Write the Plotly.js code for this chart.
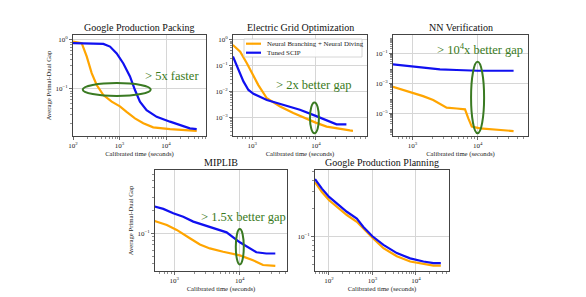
<!DOCTYPE html>
<html><head><meta charset="utf-8">
<script src="https://cdn.plot.ly/plotly-3.0.1.min.js"></script>
<style>html,body{margin:0;padding:0;background:#fff}#chart{width:586px;height:297px}</style>
</head><body><div id="chart"></div>
<script>
// ---------- data ----------
const seriesNames = ["Neural Branching + Neural Diving", "Tuned SCIP"];
const panelTitles = ["Google Production Packing", "Electric Grid Optimization", "NN Verification", "MIPLIB", "Google Production Planning"];

const packingNeuralTime = [100,154,197,252,323,450,680,1020,1420,2150,3250,5300,12200,28000,45700];
const packingNeuralGap  = [0.92,0.86,0.46,0.21,0.12,0.075,0.055,0.044,0.034,0.025,0.020,0.0165,0.0152,0.0146,0.014];
const packingScipTime   = [100,450,625,870,1210,1680,2150,2750,3820,6300,12200,23300,32600,45700];
const packingScipGap    = [0.86,0.83,0.73,0.53,0.33,0.18,0.095,0.055,0.037,0.027,0.0215,0.0175,0.0157,0.0151];

const gridNeuralTime = [500,650,826,1010,1250,1700,2740,4420,7160,9900,14700,23700,34000,38000];
const gridNeuralGap  = [0.64,0.35,0.126,0.051,0.018,0.0056,0.0027,0.0015,0.00087,0.00064,0.00045,0.00036,0.00032,0.00031];
const gridScipTime   = [500,610,730,875,1050,1700,3080,5600,9900,14700,21000,30000];
const gridScipGap    = [0.23,0.069,0.025,0.0117,0.0083,0.0048,0.0031,0.0020,0.00117,0.00076,0.00055,0.00055];

const nnNeuralTime = [500,640,910,1450,2070,2630,3330,4750,6370,7160,8090,10800,19600,35400];
const nnNeuralGap  = [5.9e-4,4.2e-4,2.8e-4,1.4e-4,7.7e-5,4.2e-5,2.4e-5,2.1e-5,1.85e-5,4.6e-6,1.3e-6,1.0e-6,7.7e-7,6.6e-7];
const nnScipTime   = [500,1020,1640,2630,4750,10000,35400];
const nnScipGap    = [0.0185,0.0129,0.010,0.0085,0.0077,0.0069,0.0069];

const miplibNeuralTime = [500,770,1090,1300,1730,2460,3490,5570,10000,15900,22600,34800];
const miplibNeuralGap  = [0.146,0.129,0.111,0.1,0.086,0.071,0.063,0.057,0.051,0.044,0.038,0.037];
const miplibScipTime   = [500,680,965,1370,1950,2760,4420,6280,10000,14200,17900,25400,34800];
const miplibScipGap    = [0.226,0.211,0.185,0.166,0.143,0.129,0.114,0.103,0.076,0.063,0.056,0.054,0.054];

const planningTime      = [48,69,101,152,258,438,620,1000,1790,3640,7350,14900,25300,37300];
const planningNeuralGap = [0.38,0.298,0.243,0.207,0.169,0.143,0.120,0.0966,0.0745,0.061,0.0537,0.0503,0.0486,0.0486];
const planningScipGap   = [0.41,0.324,0.264,0.224,0.183,0.155,0.126,0.1,0.081,0.066,0.058,0.0537,0.0516,0.0516];

const xTickVals = [[100,1000,10000],[1000,10000],[1000,10000],[1000,10000],[100,1000,10000]];
const yTickVals = [[1,0.1],[1,0.1,0.01,0.001],[0.1,0.001,0.00001],[0.1],[0.1]];

const callouts = ["&gt; 5x faster", "&gt; 2x better gap", "&gt; 10<sup>4</sup>x better gap", "&gt; 1.5x better gap"];

// ---------- layout helpers ----------
const W = 586, H = 297;
const F = "Liberation Serif";
const ORANGE = "#FFA500", BLUE = "#1010F0", GREEN = "#3A7A22";
const px = [[73,206],[233,367],[393,528],[155,287],[315,449]];
const py = [[35,136],[35,136],[35,136],[170,271],[170,271]];
const xr = [[2,4.86],[2.70,4.80],[2.70,4.77],[2.706,4.72],[1.68,4.76]];
const yr = [[-1.96,0.1],[-3.71,0.19],[-6.51,0.22],[-1.5,-0.16],[-1.372,-0.29]];
const X = v => v / W, Y = v => 1 - v / H;

function sup(v){
  const e = Math.round(Math.log10(v));
  return '10<sup>' + (e < 0 ? '\u2212' + (-e) : e) + '</sup>';
}
function minorVals(r){
  const out = [];
  for (let e = Math.floor(r[0]); e <= Math.ceil(r[1]); e++)
    for (let d = 2; d <= 9; d++) out.push(d * Math.pow(10, e));
  return out;
}

const series = [
  [packingNeuralTime, packingNeuralGap, packingScipTime, packingScipGap],
  [gridNeuralTime, gridNeuralGap, gridScipTime, gridScipGap],
  [nnNeuralTime, nnNeuralGap, nnScipTime, nnScipGap],
  [miplibNeuralTime, miplibNeuralGap, miplibScipTime, miplibScipGap],
  [planningTime, planningNeuralGap, planningTime, planningScipGap]
];

const data = [];
const layout = {
  width: W, height: H, margin: {l:0,r:0,t:0,b:0},
  paper_bgcolor: '#fff', plot_bgcolor: '#fff',
  font: {family: F, color: '#222'},
  showlegend: false,
  annotations: [], shapes: []
};

series.forEach((s, i) => {
  const k = i === 0 ? '' : String(i + 1);
  const xa = 'x' + k, ya = 'y' + k;
  data.push({x: s[0], y: s[1], xaxis: xa, yaxis: ya, mode:'lines', name: seriesNames[0],
             line:{color: ORANGE, width: 2.2}, hoverinfo:'skip'});
  data.push({x: s[2], y: s[3], xaxis: xa, yaxis: ya, mode:'lines', name: seriesNames[1],
             line:{color: BLUE, width: 2.2}, hoverinfo:'skip'});
  const common = {type:'log', showline:true, mirror:true, linecolor:'#444', linewidth:1,
    ticks:'outside', ticklen:3, tickwidth:0.8, tickcolor:'#444', showgrid:true, gridcolor:'#d6d6d6',
    gridwidth:1, zeroline:false, tickfont:{size:7, family:F, color:'#222'}, fixedrange:true};
  const minorBase = {ticks:'outside', ticklen:1.6, tickwidth:0.6, tickcolor:'#444', showgrid:false};
  layout['xaxis' + k] = Object.assign({}, common, {
    domain:[X(px[i][0]), X(px[i][1])], range: xr[i], anchor: ya,
    tickvals: xTickVals[i], ticktext: xTickVals[i].map(sup),
    minor: Object.assign({tickvals: minorVals(xr[i])}, minorBase),
    title:{text:'Calibrated time (seconds)', font:{size:6.7, family:F, color:'#222'}, standoff:1}
  });
  const yax = Object.assign({}, common, {
    domain:[Y(py[i][1]), Y(py[i][0])], range: yr[i], anchor: xa,
    tickvals: yTickVals[i], ticktext: yTickVals[i].map(sup),
    minor: Object.assign({tickvals: minorVals(yr[i])}, minorBase)
  });
  if (i === 0 || i === 3) yax.title = {text:'Average Primal-Dual Gap', font:{size:6.7, family:F, color:'#222'}, standoff:3};
  layout['yaxis' + k] = yax;
  layout.annotations.push({xref:'paper', yref:'paper', x: X((px[i][0]+px[i][1])/2), y: Y(py[i][0]),
    xanchor:'center', yanchor:'bottom', yshift:0, showarrow:false, text: panelTitles[i],
    font:{size:10, family:F, color:'#111'}});
});

// callout texts
const calloutPos = [[172,76],[313,85],[480,49],[243,217]];
callouts.forEach((t, j) => {
  layout.annotations.push({xref:'paper', yref:'paper', x: X(calloutPos[j][0]), y: Y(calloutPos[j][1]),
    xanchor:'center', yanchor:'middle', showarrow:false, text: t,
    font:{size:12.5, family:F, color: GREEN}});
});

// highlight ellipses (data coordinates)
const ell = [
  ['x','y', 162, 4690, 0.132, 0.072],
  ['x2','y2', 8060, 11140, 0.0038, 0.00025],
  ['x3','y3', 7890, 12500, 0.0275, 4.7e-7],
  ['x4','y4', 8690, 11500, 0.114, 0.0386]
];
ell.forEach(e => layout.shapes.push({type:'circle', xref:e[0], yref:e[1], x0:e[2], x1:e[3], y0:e[4], y1:e[5],
  line:{color: GREEN, width: 2}}));

// legend for the Electric Grid panel (drawn as a compact box)
const legBox = {x0:244, x1:362, y0:39, y1:57};
layout.shapes.push({type:'rect', xref:'paper', yref:'paper', x0:X(legBox.x0), x1:X(legBox.x1),
  y0:Y(legBox.y1), y1:Y(legBox.y0), fillcolor:'rgba(255,255,255,0.9)', line:{color:'#cccccc', width:0.8}, layer:'above'});
[[ORANGE, 43.7],[BLUE, 52.7]].forEach((it, j) => {
  layout.shapes.push({type:'line', xref:'paper', yref:'paper', x0:X(246), x1:X(261), y0:Y(it[1]), y1:Y(it[1]),
    line:{color: it[0], width: 2.2}, layer:'above'});
  layout.annotations.push({xref:'paper', yref:'paper', x:X(265), y:Y(it[1]), xanchor:'left', yanchor:'middle',
    showarrow:false, text: seriesNames[j], font:{size:6.9, family:F, color:'#222'}});
});

Plotly.newPlot('chart', data, layout, {staticPlot:true, displayModeBar:false});
</script>
</body></html>
